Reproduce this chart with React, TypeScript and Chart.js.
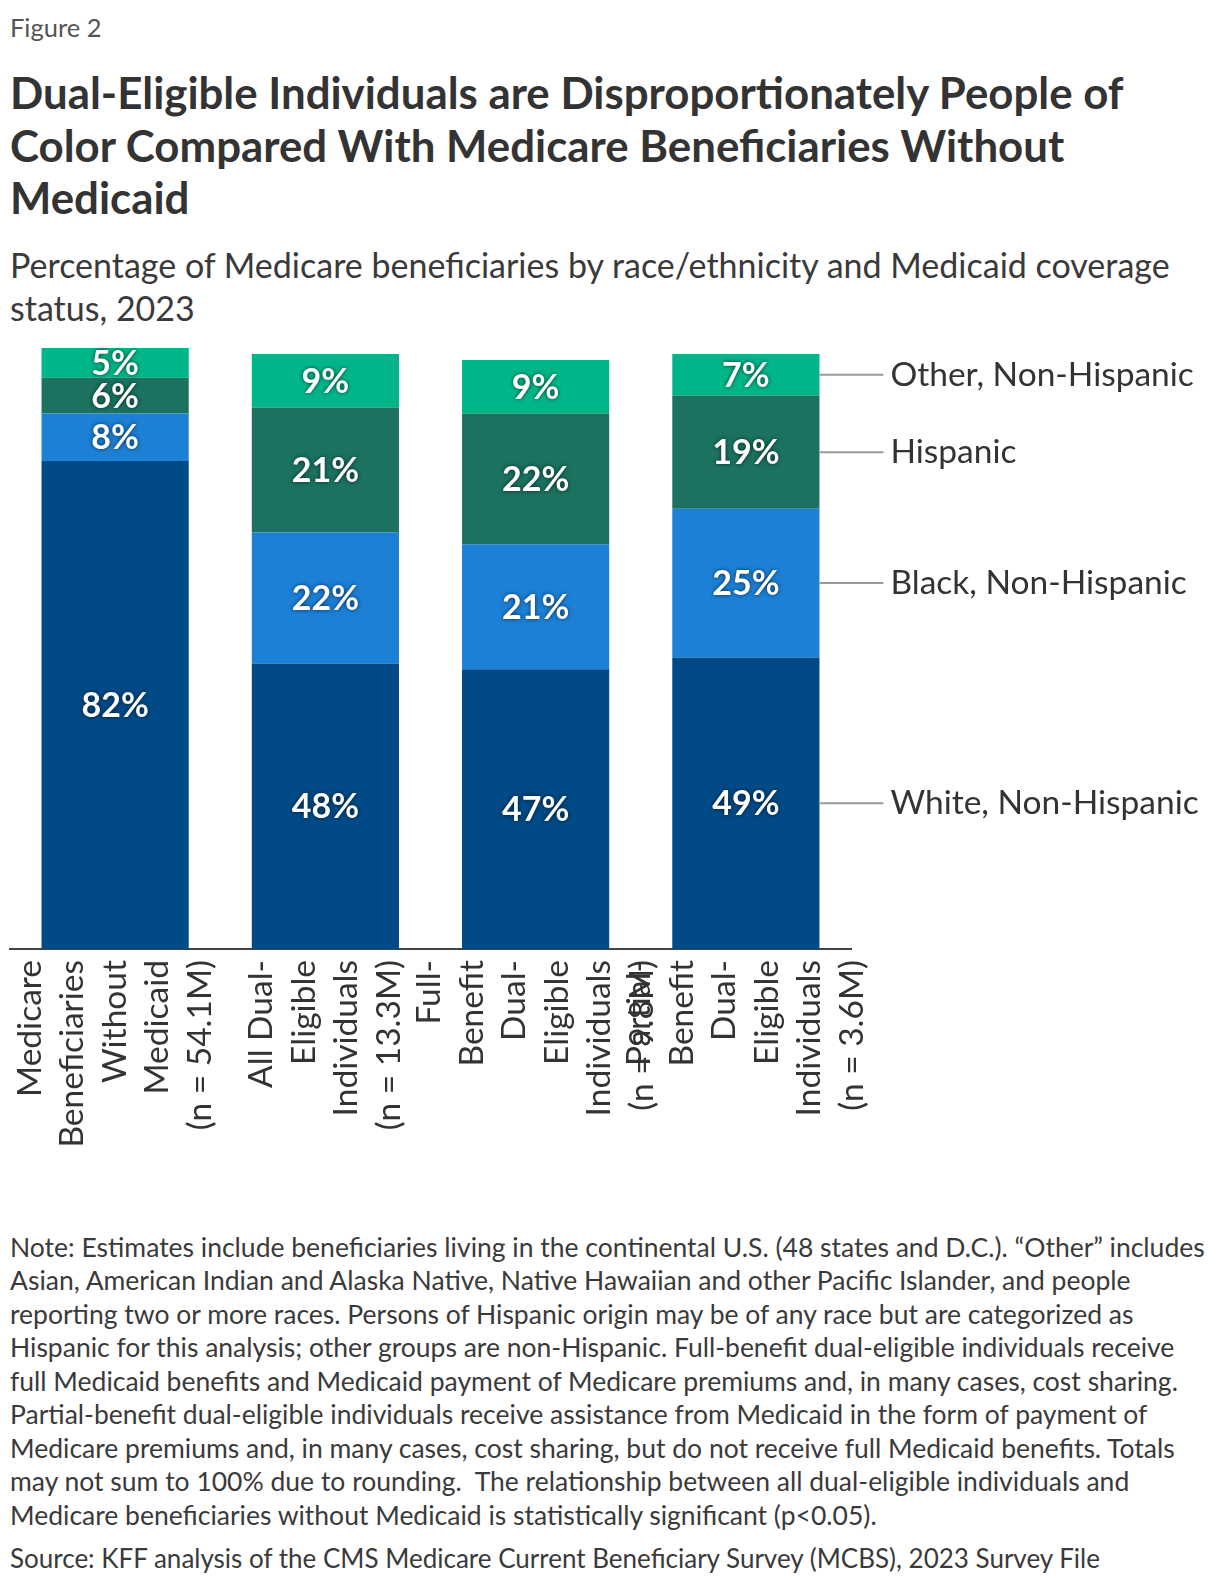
import { useEffect, useRef } from "react";
import { Chart, registerables } from "chart.js";

Chart.register(...registerables);

// Category labels, one entry per printed line
const categoryLines: string[][] = [
  ["Medicare", "Beneficiaries", "Without", "Medicaid", "(n = 54.1M)"],
  ["All Dual-", "Eligible", "Individuals", "(n = 13.3M)"],
  ["Full-", "Benefit", "Dual-", "Eligible", "Individuals", "(n = 9.8M)"],
  ["Partial-", "Benefit", "Dual-", "Eligible", "Individuals", "(n = 3.6M)"],
];

const seriesNames = [
  "White, Non-Hispanic",
  "Black, Non-Hispanic",
  "Hispanic",
  "Other, Non-Hispanic",
];

// Percent of beneficiaries in each group
const whiteValues = [82, 48, 47, 49];
const blackValues = [8, 22, 21, 25];
const hispanicValues = [6, 21, 22, 19];
const otherValues = [5, 9, 9, 7];

const seriesColors = ["#004a87", "#1c80d6", "#1b7261", "#00b689"];

const noteLines = [
  "Note: Estimates include beneficiaries living in the continental U.S. (48 states and D.C.). \u201cOther\u201d includes",
  "Asian, American Indian and Alaska Native, Native Hawaiian and other Pacific Islander, and people",
  "reporting two or more races. Persons of Hispanic origin may be of any race but are categorized as",
  "Hispanic for this analysis; other groups are non-Hispanic. Full-benefit dual-eligible individuals receive",
  "full Medicaid benefits and Medicaid payment of Medicare premiums and, in many cases, cost sharing.",
  "Partial-benefit dual-eligible individuals receive assistance from Medicaid in the form of payment of",
  "Medicare premiums and, in many cases, cost sharing, but do not receive full Medicaid benefits. Totals",
  "may not sum to 100% due to rounding.  The relationship between all dual-eligible individuals and",
  "Medicare beneficiaries without Medicaid is statistically significant (p<0.05).",
];

const sourceLine =
  "Source: KFF analysis of the CMS Medicare Current Beneficiary Survey (MCBS), 2023 Survey File";

const titleLines = [
  "Dual-Eligible Individuals are Disproportionately People of",
  "Color Compared With Medicare Beneficiaries Without",
  "Medicaid",
];
const subtitleLines = [
  "Percentage of Medicare beneficiaries by race/ethnicity and Medicaid coverage",
  "status, 2023",
];

const FONT = "Lato, 'Source Sans Pro', 'Noto Sans', sans-serif";
const TEXT = "#333333";

const labelLineGap = 42.5;

const overlayPlugin = {
  id: "barOverlay",
  afterDatasetsDraw(chart: any) {
    const ctx: CanvasRenderingContext2D = chart.ctx;
    const datasets = chart.data.datasets;

    // percentage inside each segment
    datasets.forEach((ds: any, di: number) => {
      const meta = chart.getDatasetMeta(di);
      meta.data.forEach((bar: any, i: number) => {
        const p = bar.getProps(["x", "y", "base"], true);
        ctx.save();
        ctx.font = `bold 34px ${FONT}`;
        ctx.fillStyle = "#ffffff";
        ctx.textAlign = "center";
        ctx.textBaseline = "middle";
        ctx.shadowColor = "rgba(0,0,0,0.65)";
        ctx.shadowBlur = 4;
        ctx.fillText(`${ds.data[i]}%`, p.x, (p.y + p.base) / 2 + 1);
        ctx.restore();
      });
    });

    // rotated category labels below the axis
    const xScale = chart.scales.x;
    const bottom = chart.chartArea.bottom;
    categoryLines.forEach((lines, i) => {
      const cx = xScale.getPixelForValue(i);
      lines.forEach((line, j) => {
        const lx = cx + (j - (lines.length - 1) / 2) * labelLineGap;
        ctx.save();
        ctx.translate(lx, bottom + 11);
        ctx.rotate(-Math.PI / 2);
        ctx.font = `33.5px ${FONT}`;
        ctx.fillStyle = TEXT;
        ctx.textAlign = "right";
        ctx.textBaseline = "middle";
        ctx.fillText(line, 0, 0);
        ctx.restore();
      });
    });

    // series names beside the last bar
    const last = categoryLines.length - 1;
    datasets.forEach((ds: any, di: number) => {
      const bar = chart.getDatasetMeta(di).data[last];
      const p = bar.getProps(["x", "y", "base", "width"], true);
      const yc = (p.y + p.base) / 2;
      const right = p.x + p.width / 2;
      ctx.save();
      ctx.strokeStyle = "#9a9a9a";
      ctx.lineWidth = 2;
      ctx.beginPath();
      ctx.moveTo(right, yc);
      ctx.lineTo(right + 64, yc);
      ctx.stroke();
      ctx.font = `33.5px ${FONT}`;
      ctx.fillStyle = TEXT;
      ctx.textAlign = "left";
      ctx.textBaseline = "middle";
      ctx.fillText(ds.label, right + 71, yc);
      ctx.restore();
    });
  },
};

function StackedBars() {
  const canvasRef = useRef<HTMLCanvasElement | null>(null);

  useEffect(() => {
    if (!canvasRef.current) return;
    const seriesValues = [whiteValues, blackValues, hispanicValues, otherValues];
    const chart = new Chart(canvasRef.current, {
      type: "bar",
      data: {
        labels: categoryLines.map((l) => l.join(" ")),
        datasets: seriesNames.map((name, i) => ({
          label: name,
          data: seriesValues[i],
          backgroundColor: seriesColors[i],
          borderWidth: 0,
          barPercentage: 0.7,
          categoryPercentage: 1,
        })),
      },
      options: {
        animation: false,
        responsive: false,
        maintainAspectRatio: false,
        layout: { padding: { left: 2, right: 361, top: 18, bottom: 251 } },
        plugins: {
          legend: { display: false },
          tooltip: { enabled: false },
        },
        scales: {
          x: {
            stacked: true,
            grid: { display: false, drawTicks: false, tickLength: 0 },
            border: { display: true, color: "#444444", width: 2 },
            ticks: { display: false, padding: 0 },
          },
          y: {
            stacked: true,
            display: false,
            min: 0,
            max: 101,
          },
        },
      },
      plugins: [overlayPlugin],
    });
    return () => chart.destroy();
  }, []);

  return (
    <canvas
      ref={canvasRef}
      width={1204}
      height={870}
      style={{ position: "absolute", left: 0, top: 322, width: 1204, height: 870 }}
    />
  );
}

export default function App() {
  const base: React.CSSProperties = {
    position: "absolute",
    left: 2,
    margin: 0,
    color: TEXT,
    fontFamily: FONT,
    whiteSpace: "pre",
  };
  return (
    <div style={{ position: "relative", width: 1204, height: 1572, background: "#fff" }}>
      <div style={{ ...base, top: 4, fontSize: 25.5, lineHeight: "30px", color: "#555555" }}>
        Figure 2
      </div>
      <div style={{ ...base, top: 58, fontSize: 43.8, lineHeight: "52.5px", fontWeight: 700 }}>
        {titleLines.map((t) => (
          <div key={t}>{t}</div>
        ))}
      </div>
      <div style={{ ...base, top: 235, fontSize: 34, lineHeight: "43px", color: "#3a3a3a" }}>
        {subtitleLines.map((t) => (
          <div key={t}>{t}</div>
        ))}
      </div>
      <StackedBars />
      <div style={{ ...base, top: 1223, fontSize: 26.5, lineHeight: "33.45px", color: "#3a3a3a" }}>
        {noteLines.map((t) => (
          <div key={t}>{t}</div>
        ))}
      </div>
      <div style={{ ...base, top: 1534, fontSize: 26, lineHeight: "33.45px", color: "#3a3a3a" }}>
        {sourceLine}
      </div>
    </div>
  );
}
